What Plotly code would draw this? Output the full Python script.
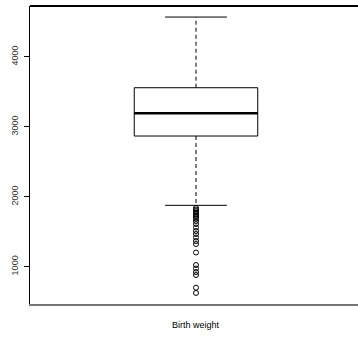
import plotly.graph_objects as go

# Birth weight summary (grams)
label = "Birth weight"
q1 = 2867
median = 3191
q3 = 3557
whisker_low = 1877
whisker_high = 4567
outliers = [1839, 1817, 1796, 1774, 1753, 1731, 1710, 1689, 1653, 1610,
            1560, 1510, 1467, 1417, 1367, 1324, 1203, 1024, 974, 924,
            881, 700, 625]
y_ticks = [1000, 2000, 3000, 4000]

box_w = 0.372
cap_w = box_w / 2
pos = 0

fig = go.Figure()

# box body (whiskers drawn separately as dashed lines)
fig.add_trace(go.Box(
    x=[pos], q1=[q1], median=[median], q3=[q3],
    lowerfence=[q1], upperfence=[q3],
    width=box_w, whiskerwidth=0, boxpoints=False,
    fillcolor="white", line=dict(color="black", width=1),
    showlegend=False, hoverinfo="skip",
))

# thick median line
fig.add_trace(go.Scatter(
    x=[pos - box_w / 2, pos + box_w / 2], y=[median, median],
    mode="lines", line=dict(color="black", width=2.5),
    showlegend=False, hoverinfo="skip",
))

# dashed whiskers
for a, b in [(q3, whisker_high), (q1, whisker_low)]:
    fig.add_trace(go.Scatter(
        x=[pos, pos], y=[a, b], mode="lines",
        line=dict(color="black", width=1, dash="4px,3px"),
        showlegend=False, hoverinfo="skip",
    ))

# whisker caps
for v in [whisker_high, whisker_low]:
    fig.add_trace(go.Scatter(
        x=[pos - cap_w / 2, pos + cap_w / 2], y=[v, v], mode="lines",
        line=dict(color="black", width=1),
        showlegend=False, hoverinfo="skip",
    ))

# outliers
fig.add_trace(go.Scatter(
    x=[pos] * len(outliers), y=outliers, mode="markers",
    marker=dict(symbol="circle-open", size=5, color="black",
                line=dict(width=1, color="black")),
    showlegend=False, hoverinfo="skip",
))

span = whisker_high - min(outliers)
y_lo = min(outliers) - 0.04 * span
y_hi = whisker_high + 0.04 * span

fig.update_layout(
    width=358, height=350,
    margin=dict(l=30, r=0, t=6, b=46),
    paper_bgcolor="white", plot_bgcolor="white",
    font=dict(family="Liberation Sans, Arial, sans-serif", size=9, color="black"),
    xaxis=dict(range=[-0.5, 0.488], showticklabels=False, ticks="",
               showgrid=False, zeroline=False,
               showline=True, linecolor="#777777", linewidth=2),
    yaxis=dict(range=[y_lo, y_hi], tickvals=y_ticks,
               ticktext=[str(v) for v in y_ticks],
               tickangle=-90, ticks="outside", ticklen=5, tickcolor="black",
               ticklabelstandoff=2,
               showgrid=False, zeroline=False,
               showline=True, linecolor="black", linewidth=1,
               tickfont=dict(size=9, color="#333333")),
    shapes=[dict(type="line", xref="paper", yref="paper", x0=0, x1=1, y0=1, y1=1,
                 line=dict(color="black", width=2))],
    annotations=[dict(text=label, x=pos, xref="x", y=0, yref="paper",
                      yshift=-21, yanchor="middle", showarrow=False,
                      font=dict(size=9, color="black"))],
)

fig.write_html("out.html")
